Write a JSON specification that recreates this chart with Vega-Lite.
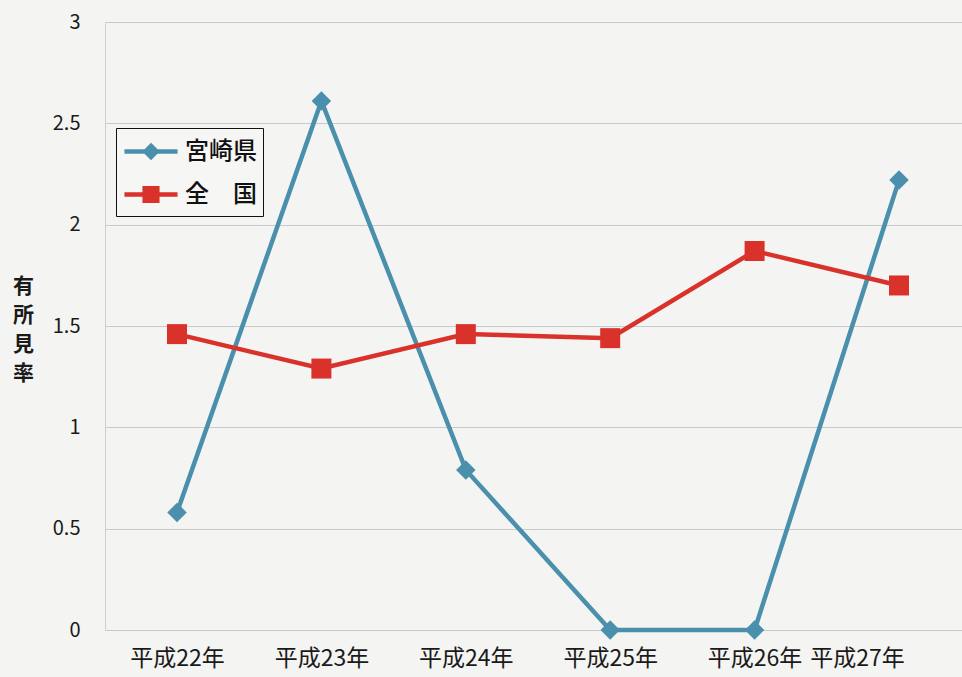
{
  "$schema": "https://vega.github.io/schema/vega-lite/v6.json",
  "width": 866,
  "height": 608,
  "autosize": {"type": "none"},
  "padding": {"left": 105, "top": 22, "right": 0, "bottom": 47},
  "background": "#f4f4f2",
  "config": {
    "view": {"stroke": null},
    "font": "Noto Sans CJK JP"
  },
  "data": {
    "values": [
      {"year": "平成22年", "series": "宮崎県", "value": 0.58},
      {"year": "平成23年", "series": "宮崎県", "value": 2.61},
      {"year": "平成24年", "series": "宮崎県", "value": 0.79},
      {"year": "平成25年", "series": "宮崎県", "value": 0},
      {"year": "平成26年", "series": "宮崎県", "value": 0},
      {"year": "平成27年", "series": "宮崎県", "value": 2.22},
      {"year": "平成22年", "series": "全国", "value": 1.46},
      {"year": "平成23年", "series": "全国", "value": 1.29},
      {"year": "平成24年", "series": "全国", "value": 1.46},
      {"year": "平成25年", "series": "全国", "value": 1.44},
      {"year": "平成26年", "series": "全国", "value": 1.87},
      {"year": "平成27年", "series": "全国", "value": 1.70}
    ]
  },
  "encoding": {
    "x": {
      "field": "year",
      "type": "ordinal",
      "sort": null,
      "scale": {"type": "point", "padding": 0.4986},
      "axis": {
        "title": null,
        "labelAngle": 0,
        "domain": false,
        "ticks": false,
        "grid": false,
        "labelFontSize": 23,
        "labelColor": "#1a1a1a",
        "labelPadding": 17,
        "labelOffset": {"condition": {"test": "datum.value === '平成27年'", "value": -42}, "value": 0}
      }
    },
    "y": {
      "field": "value",
      "type": "quantitative",
      "scale": {"domain": [0, 3], "nice": false, "zero": true},
      "axis": {
        "values": [0, 0.5, 1, 1.5, 2, 2.5, 3],
        "format": "~g",
        "title": ["有", "所", "見", "率"],
        "titleAngle": 0,
        "titleX": -82,
        "titleY": 253,
        "titleAlign": "center",
        "titleBaseline": "top",
        "titleFontSize": 21,
        "titleFontWeight": "bold",
        "titleLineHeight": 29,
        "titleColor": "#1a1a1a",
        "labelFontSize": 20,
        "labelColor": "#1a1a1a",
        "labelPadding": 25,
        "ticks": false,
        "domain": true,
        "domainColor": "#cfcfcf",
        "gridColor": "#c9c9c9",
        "gridWidth": 1
      }
    }
  },
  "layer": [
    {
      "mark": {"type": "line", "strokeWidth": 4.5},
      "encoding": {
        "color": {
          "field": "series",
          "type": "nominal",
          "sort": null,
          "scale": {"domain": ["宮崎県", "全国"], "range": ["#4a90ad", "#d9322b"]},
          "legend": {
            "title": null,
            "orient": "none",
            "legendX": 11,
            "legendY": 106,
            "strokeColor": "#111111",
            "fillColor": "#f6f6f4",
            "padding": 6,
            "labelFontSize": 24,
            "labelColor": "#111111",
            "labelFontWeight": 500,
            "labelOffset": 16.5,
            "labelExpr": "datum.label === '全国' ? '全\u3000国' : datum.label",
            "symbolSize": 900,
            "symbolOffset": 11.5,
            "symbolStrokeWidth": 4.5,
            "symbolType": {"expr": "datum.value === '宮崎県' ? 'M-1.77,0H1.77M0,-0.37L0.37,0L0,0.37L-0.37,0Z' : 'M-1.77,0H1.77M-0.42,-0.42H0.42V0.42H-0.42Z'"},
            "symbolFillColor": {"expr": "scale('color', datum.value)"},
            "rowPadding": 10
          }
        }
      }
    },
    {
      "transform": [{"filter": "datum.series === '宮崎県'"}],
      "mark": {"type": "point", "filled": true, "opacity": 1, "shape": "diamond", "size": 380, "color": "#4a90ad"}
    },
    {
      "transform": [{"filter": "datum.series === '全国'"}],
      "mark": {"type": "point", "filled": true, "opacity": 1, "shape": "square", "size": 400, "color": "#d9322b"}
    }
  ]
}
